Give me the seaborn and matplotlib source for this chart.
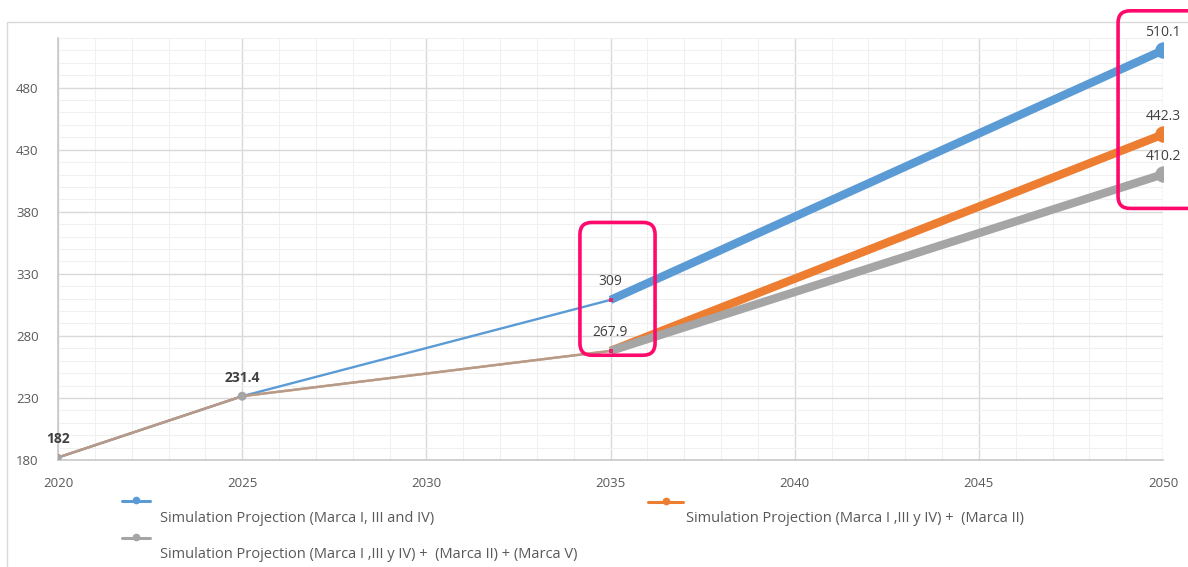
import numpy as np
import pandas as pd
import matplotlib
matplotlib.use("Agg")
import matplotlib.pyplot as plt
from matplotlib.lines import Line2D
from matplotlib.patches import FancyBboxPatch, Rectangle
from matplotlib.ticker import MultipleLocator
import seaborn as sns

# Projection data
years = [2020, 2025, 2035, 2050]
proj_134 = [182, 231.4, 309, 510.1]
proj_134_2 = [182, 231.4, 267.9, 442.3]
proj_134_2_5 = [182, 231.4, 267.9, 410.2]

series_names = [
    "Simulation Projection (Marca I, III and IV)",
    "Simulation Projection (Marca I ,III y IV) +  (Marca II)",
    "Simulation Projection (Marca I ,III y IV) +  (Marca II) + (Marca V)",
]
series_values = [proj_134, proj_134_2, proj_134_2_5]
colors = ["#5B9BD5", "#ED7D31", "#A5A5A5"]

x_ticks = [2020, 2025, 2030, 2035, 2040, 2045, 2050]
y_ticks = [180, 230, 280, 330, 380, 430, 480]

sns.set_theme(style="white")
plt.rcParams["font.family"] = ["Open Sans", "DejaVu Sans"]

W, H = 1188, 567
fig = plt.figure(figsize=(W / 100, H / 100), dpi=100)
ax = fig.add_axes([58 / W, 1 - 460 / H, (1163 - 58) / W, (460 - 38) / H])

frames = []
for name, vals in zip(series_names, series_values):
    frames.append(pd.DataFrame({"year": years, "value": vals, "series": name}))
df = pd.concat(frames, ignore_index=True)

# thin early segments (gray drawn semi-transparent over orange)
for name, col, alpha in [(series_names[0], colors[0], 1.0),
                         (series_names[1], colors[1], 1.0),
                         (series_names[2], "#A5A5A5", 0.8)]:
    sub = df[(df.series == name) & (df.year <= 2035)]
    sns.lineplot(data=sub, x="year", y="value", ax=ax, color=col, lw=1.7,
                 alpha=alpha, legend=False, zorder=3)

# thick late segments
for name, col in zip(series_names, colors):
    sub = df[(df.series == name) & (df.year >= 2035)]
    sns.lineplot(data=sub, x="year", y="value", ax=ax, color=col, lw=6,
                 legend=False, zorder=4, solid_capstyle="butt")

# markers
for name, col in zip(series_names, colors):
    sub = df[df.series == name]
    end = sub[sub.year == 2050]
    ax.scatter(end.year, end.value, s=140, color=col, zorder=6, linewidths=0)
early = df[(df.series == series_names[2]) & (df.year <= 2025)]
ax.scatter(early.year, early.value, s=[30, 42], color="#A5A5A5", zorder=6, linewidths=0)
mid = df[df.year == 2035].drop_duplicates("value")
ax.scatter(mid.year, mid.value, s=12, color="#E6246E", zorder=6, linewidths=0, marker="s")

# value labels
seen = {}
for _, r in df.iterrows():
    key = (r.year, r.value)
    seen[key] = seen.get(key, 0) + 1
for (yr, val), n in seen.items():
    txt = f"{val:g}"
    ax.annotate(txt, (yr, val), xytext=(0, 13), textcoords="offset points",
                ha="center", va="center", fontsize=10,
                color="#404040", fontweight="bold" if n == 3 else "normal",
                zorder=7, annotation_clip=False)

ax.set_xlim(2020, 2050)
ax.set_ylim(180, 520)
ax.set_xticks(x_ticks)
ax.set_yticks(y_ticks)
ax.xaxis.set_minor_locator(MultipleLocator(1))
ax.yaxis.set_minor_locator(MultipleLocator(10))
ax.grid(which="major", color="#d9d9d9", lw=1.0)
ax.grid(which="minor", color="#f0f0f0", lw=0.8)
ax.set_axisbelow(True)
ax.tick_params(axis="both", which="both", length=0, labelsize=9.5, labelcolor="#595959")
ax.tick_params(axis="x", pad=12)
ax.tick_params(axis="y", pad=14)
ax.set_xlabel("")
ax.set_ylabel("")
for s in ["top", "right"]:
    ax.spines[s].set_visible(False)
for s in ["left", "bottom"]:
    ax.spines[s].set_color("#c8c8c8")
    ax.spines[s].set_linewidth(1.2)

# highlight boxes, drawn in pixel space so corners stay round
fig.canvas.draw()
for (x0, x1, y0, y1) in [(2034.17, 2036.21, 264.4, 371.4), (2048.78, 2051.3, 382.7, 541.9)]:
    (px0, py0) = ax.transData.transform((x0, y0))
    (px1, py1) = ax.transData.transform((x1, y1))
    box = FancyBboxPatch((px0, py0), px1 - px0, py1 - py0,
                         boxstyle="round,pad=0,rounding_size=12",
                         fill=False, ec="#FF0A6C", lw=2.6, zorder=8,
                         transform=None, clip_on=False)
    fig.add_artist(box)

# outer chart border
fig.add_artist(Rectangle((7 / W, -0.01), 1.2, 1 - 22 / H + 0.01, transform=fig.transFigure,
                         fill=False, ec="#d9d9d9", lw=1.0))

# legend, laid out beneath the plot
def fy(py):
    return 1 - py / H

def fx(px):
    return px / W

legend_items = [
    (series_names[0], colors[0], 122, 150, 501, 160, 518),
    (series_names[1], colors[1], 648, 683, 502, 686, 518),
    (series_names[2], colors[2], 122, 150, 538, 160, 555),
]
for name, col, hx0, hx1, hy, tx, ty in legend_items:
    fig.add_artist(Line2D([fx(hx0), fx(hx1)], [fy(hy), fy(hy)], color=col, lw=2.2,
                          transform=fig.transFigure))
    fig.add_artist(Line2D([fx((hx0 + hx1) / 2)], [fy(hy) + 0.002], color=col, marker="o",
                          ms=4.5, transform=fig.transFigure))
    fig.text(fx(tx), fy(ty), name, ha="left", va="center", fontsize=10.5, color="#595959")

fig.savefig("out.png", dpi=100)
